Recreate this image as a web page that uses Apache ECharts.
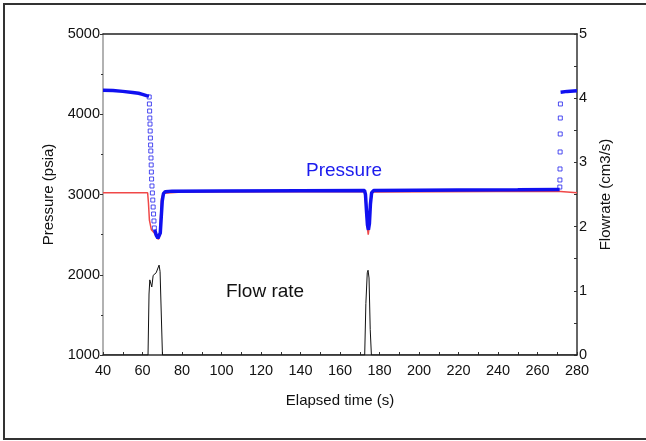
<!DOCTYPE html>
<html>
<head>
<meta charset="utf-8">
<script src="https://cdn.jsdelivr.net/npm/echarts@6/dist/echarts.min.js"></script>
<style>
  html, body { margin: 0; padding: 0; background: #fff; }
  #chart { width: 646px; height: 441px; }
</style>
</head>
<body>
<div id="chart"></div>
<script>
// measured pressure (psia), thick blue trace; null = gap where only squares show
const pressTime = [40, 45, 50, 55, 58, 60, 61, 62, 63.3, null,
  66.2, 67, 67.8, 68.4, 69, 69.5, 70, 70.6, 71.5, 75, 100, 140, 172.4,
  172.9, 173.4, 173.9, 174.4, 174.9, 175.4, 176, 177, 220, 250, 271.2, null,
  271.7, 275, 280];
const pressVal = [4300, 4295, 4285, 4272, 4262, 4248, 4238, 4232, 4226, null,
  2560, 2490, 2455, 2450, 2520, 2720, 2920, 3010, 3035, 3042, 3045, 3048, 3050,
  3000, 2800, 2620, 2560, 2640, 2880, 3020, 3050, 3055, 3058, 3062, null,
  4275, 4285, 4292];

// sparse samples during drawdown and final buildup (hollow squares)
const squareTime = [63.4, 63.5, 63.6, 63.7, 63.8, 63.9, 64.0, 64.1, 64.2, 64.3,
  64.4, 64.5, 64.6, 64.8, 65.0, 65.2, 65.4, 65.6, 65.8, 66.0,
  271.3, 271.35, 271.4, 271.45, 271.5, 271.55, 271.6];
const squareVal = [4215, 4128, 4040, 3953, 3878, 3791, 3704, 3617, 3542, 3455,
  3368, 3280, 3193, 3106, 3019, 2931, 2844, 2757, 2670, 2583,
  3093, 3181, 3318, 3530, 3754, 3953, 4128];

// model pressure (psia), red
const modelTime = [40, 62.6, 63, 63.5, 64.5, 66, 67, 68, 68.6, 69.1, 69.6, 70.5,
  80, 172.5, 173, 173.8, 174.3, 174.8, 175.5, 176.5, 270, 271, 280];
const modelVal = [3022, 3022, 2900, 2680, 2560, 2520, 2480, 2440, 2470, 2700, 2950, 3015,
  3032, 3036, 2900, 2600, 2500, 2600, 2900, 3032, 3040, 3025, 3022];

// flow rate (cm3/s), right axis
const flowTime = [40, 62.8, 63.3, 63.7, 64.2, 64.7, 65.4, 66.9, 68.4, 68.9, 70.1,
  172.5, 173.1, 173.8, 174.2, 174.7, 175.3, 175.9, 280];
const flowVal = [0, 0, 0.95, 1.17, 1.15, 1.06, 1.24, 1.28, 1.40, 1.3, 0,
  0, 0.8, 1.28, 1.32, 1.2, 0.4, 0, 0];

const timeTicks = { min: 40, max: 280, step: 20 };
const pressTicks = { min: 1000, max: 5000, step: 1000 };
const flowTicks = { min: 0, max: 5, step: 1 };

function pairs(xs, ys) {
  return xs.map((x, i) => (x === null ? [null, null] : [x, ys[i]]));
}

const chart = echarts.init(document.getElementById('chart'));
const font = 'Liberation Sans, Arial, sans-serif';

chart.setOption({
  animation: false,
  backgroundColor: '#fff',
  grid: { left: 103, right: 69, top: 34, bottom: 86 },
  xAxis: [
    {
      type: 'value',
      min: timeTicks.min, max: timeTicks.max, interval: timeTicks.step,
      name: 'Elapsed time (s)',
      nameLocation: 'middle',
      nameGap: 38,
      nameTextStyle: { fontFamily: font, fontSize: 15, color: '#111' },
      axisLine: { lineStyle: { color: '#333', width: 1.5 } },
      axisTick: { inside: true, length: 3, lineStyle: { color: '#333' } },
      minorTick: { show: true, splitNumber: 2, length: 3, lineStyle: { color: '#333' } },
      axisLabel: { fontFamily: font, fontSize: 14.5, color: '#111', margin: 8 },
      splitLine: { show: false }
    },
    {
      type: 'value', position: 'top',
      min: timeTicks.min, max: timeTicks.max,
      axisLine: { lineStyle: { color: '#222', width: 1.5 } },
      axisTick: { show: false }, axisLabel: { show: false }, splitLine: { show: false }
    }
  ],
  yAxis: [
    {
      type: 'value',
      min: pressTicks.min, max: pressTicks.max, interval: pressTicks.step,
      name: 'Pressure (psia)',
      nameLocation: 'middle',
      nameRotate: 90,
      nameGap: 46,
      nameTextStyle: { fontFamily: font, fontSize: 15, color: '#111' },
      axisLine: { show: true, lineStyle: { color: '#999', width: 1.5 } },
      axisTick: { length: 3, lineStyle: { color: '#333' } },
      minorTick: { show: true, splitNumber: 2, length: 2, lineStyle: { color: '#333' } },
      axisLabel: {
        fontFamily: font, fontSize: 14.5, color: '#111', margin: 3,
        formatter: v => String(v)
      },
      splitLine: { show: false }
    },
    {
      type: 'value', position: 'right',
      min: flowTicks.min, max: flowTicks.max, interval: flowTicks.step,
      name: 'Flowrate (cm3/s)',
      nameLocation: 'middle',
      nameRotate: 90,
      nameGap: 20,
      nameTextStyle: { fontFamily: font, fontSize: 15, color: '#111' },
      axisLine: { show: true, lineStyle: { color: '#333', width: 1.5 } },
      axisTick: { length: 3, inside: true, lineStyle: { color: '#333' } },
      minorTick: { show: true, splitNumber: 2, length: 3, lineStyle: { color: '#333' } },
      axisLabel: { fontFamily: font, fontSize: 14.5, color: '#111', margin: 2 },
      splitLine: { show: false }
    }
  ],
  series: [
    {
      name: 'Flow rate', type: 'line', yAxisIndex: 1,
      data: pairs(flowTime, flowVal),
      showSymbol: false,
      lineStyle: { color: '#111', width: 1 }
    },
    {
      name: 'Model', type: 'line',
      data: pairs(modelTime, modelVal),
      showSymbol: false,
      lineStyle: { color: '#f04848', width: 1.5 }
    },
    {
      name: 'Pressure', type: 'line',
      data: pairs(pressTime, pressVal),
      showSymbol: false,
      connectNulls: false,
      lineStyle: { color: '#1010f0', width: 3.5 }
    },
    {
      name: 'Samples', type: 'scatter',
      data: pairs(squareTime, squareVal),
      symbol: 'rect', symbolSize: 4,
      itemStyle: { color: '#fff', borderColor: '#2020ee', borderWidth: 1 }
    }
  ],
  graphic: [
    {
      type: 'rect', silent: true,
      shape: { x: 4, y: 4, width: 700, height: 435 },
      style: { fill: 'none', stroke: '#333', lineWidth: 2 }
    },
    {
      type: 'text', left: 306, top: 161,
      style: { text: 'Pressure', fill: '#1a1aee', font: '19px ' + font }
    },
    {
      type: 'text', left: 226, top: 282,
      style: { text: 'Flow rate', fill: '#111', font: '19px ' + font }
    }
  ]
});
</script>
</body>
</html>
